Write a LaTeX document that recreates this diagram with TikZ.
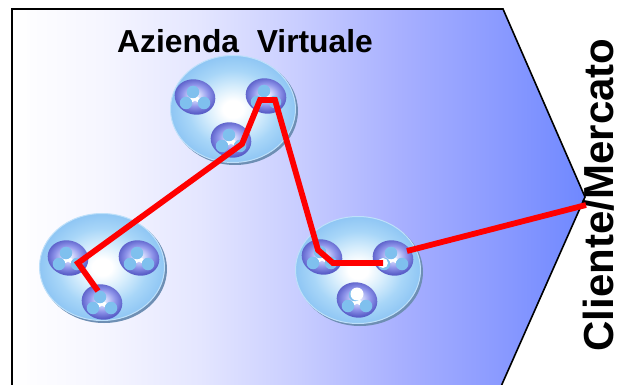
\documentclass[tikz,border=0pt]{standalone}
\usepackage{fontspec}
\setmainfont{Liberation Sans}
\usetikzlibrary{shapes.geometric}
\definecolor{ballrim}{HTML}{BEE0FA}
\definecolor{ballshadow}{HTML}{6E8FB4}
\definecolor{dotblue}{HTML}{7FC0EE}
\definecolor{redline}{HTML}{FF0000}
\definecolor{zA}{HTML}{FFFFFF}\definecolor{zB}{HTML}{F6F6FF}\definecolor{zC}{HTML}{E4E6FF}
\definecolor{zD}{HTML}{C8CDFF}\definecolor{zE}{HTML}{A8B0FF}\definecolor{zF}{HTML}{8A9AFF}\definecolor{zG}{HTML}{6F88FF}
\definecolor{bA}{HTML}{FFFFFF}\definecolor{bB}{HTML}{D4ECFC}\definecolor{bC}{HTML}{A8D6F8}\definecolor{bD}{HTML}{8FC6F4}
\definecolor{cA}{HTML}{FFFFFF}\definecolor{cB}{HTML}{C8CEFA}\definecolor{cC}{HTML}{8E94EA}\definecolor{cD}{HTML}{5A5EC8}
\pgfdeclarehorizontalshading{zone}{100bp}{
  color(0bp)=(zA); color(25bp)=(zA);
  color(32.7bp)=(zB); color(41.4bp)=(zC);
  color(50.1bp)=(zD); color(58.8bp)=(zE);
  color(67.6bp)=(zF); color(75bp)=(zG);
  color(100bp)=(zG)}
\pgfdeclareradialshading{ballrad}{\pgfpoint{0bp}{0bp}}{
  color(0bp)=(bA); color(4bp)=(bA); color(11bp)=(bB); color(18bp)=(bC); color(25bp)=(bD); color(50bp)=(bD)}
\pgfdeclareradialshading{cellrad}{\pgfpoint{0bp}{0bp}}{
  color(0bp)=(cA); color(7bp)=(cB); color(15bp)=(cC); color(24bp)=(cD); color(50bp)=(cD)}
\tikzset{
  x=1pt,y=-1pt,
  zonearea/.style={draw=black,line width=1.6pt,line join=miter,shading=zone},
  ballshade/.style={ellipse,inner sep=0pt,minimum width=126pt,minimum height=108pt,fill=ballshadow},
  ballbody/.style={ellipse,inner sep=0pt,minimum width=125pt,minimum height=107pt,shading=ballrad,draw=ballrim,line width=1pt},
  cellshade/.style={ellipse,inner sep=0pt,minimum width=41pt,minimum height=35pt,rotate=-15,shading=cellrad},
  dotnode/.style={circle,inner sep=0pt,minimum size=12.5pt,fill=dotblue},
  whitedot/.style={circle,inner sep=0pt,minimum size=13pt,fill=white},
  linkline/.style={draw=white,line width=4.5pt},
  redroute/.style={draw=redline,line width=5.8pt,line join=miter,line cap=butt},
  titletext/.style={font=\bfseries\fontsize{31.8}{36}\selectfont,inner sep=0pt}
}
\newcommand{\mycell}[3]{%
  \node[cellshade] (#1) at (#2,#3) {};
  \draw[linkline] (#2-2,#3-4) -- (#2,#3+1) -- (#2-9,#3+6) (#2,#3+1) -- (#2+9,#3+6);
  \node[dotnode] (#1a) at (#2-2,#3-5) {};
  \node[dotnode] (#1b) at (#2-9,#3+6) {};
  \node[dotnode] (#1c) at (#2+9,#3+6) {};
}
\newcommand{\myball}[3]{%
  \node[ballshade] at (#2+2,#3+2) {};
  \node[ballbody] (#1) at (#2,#3) {};
}
\begin{document}
\begin{tikzpicture}
\useasboundingbox (0,0) rectangle (619,385);
\clip (0,0) rectangle (619,385);
\path[zonearea] (12,400) -- (12,9) -- (503,9) -- (585,197) -- (495,400) -- cycle;

\myball{ballA}{233}{109}
\mycell{a1}{195}{97}
\mycell{a2}{266}{96}
\mycell{a3}{231}{140}

\myball{ballB}{102}{267}
\mycell{b1}{68}{258}
\mycell{b2}{139}{258}
\mycell{b3}{102}{302}

\myball{ballC}{358}{270}
\mycell{c1}{322}{257}
\mycell{c2}{393}{258}
\mycell{c3}{357}{300}
\node[whitedot] at (357,294) {};
\node[whitedot,minimum size=10pt] at (383,263) {};

\node[titletext,anchor=base west] (title) at (117,53) {Azienda\ \ Virtuale};
\node[titletext,font=\bfseries\fontsize{42}{46}\selectfont,rotate=90,anchor=base] (market) at (613,195) {Cliente/Mercato};

\coordinate (p1) at (98,291);
\coordinate (p2) at (78,263);
\coordinate (p3) at (242,144);
\coordinate (p4) at (260,100);
\coordinate (p5) at (275,100);
\coordinate (p6) at (318,250);
\coordinate (p7) at (333,263);
\coordinate (p8) at (383,263);
\coordinate (q1) at (407,251);
\coordinate (q2) at (586,205);
\draw[redroute] (p1) -- (p2) -- (p3) -- (p4) -- (p5) -- (p6) -- (p7) -- (p8);
\draw[redroute] (q1) -- (q2);
\end{tikzpicture}
\end{document}
